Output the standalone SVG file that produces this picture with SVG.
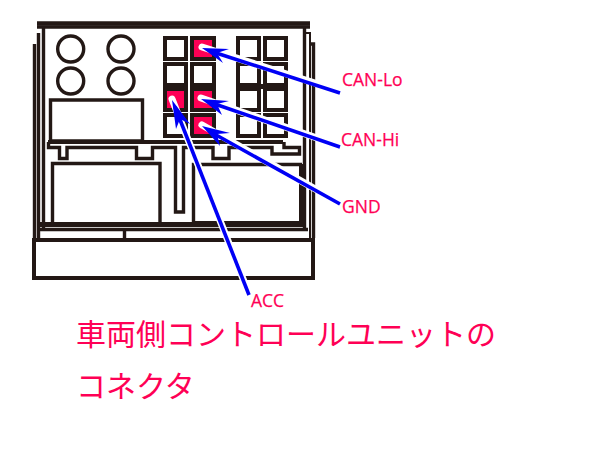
<svg xmlns="http://www.w3.org/2000/svg" width="600" height="450" viewBox="0 0 600 450">
<style>
.k{fill:none;stroke:#231815;stroke-width:3.4}
.p{fill:#fff;stroke:#231815;stroke-width:4}
.r{fill:#ff0055;stroke:#231815;stroke-width:4}
.h{fill:none;stroke:#fff;stroke-width:7;stroke-linecap:round}
.a{fill:none;stroke:#0000f5;stroke-width:3.600}
.ah{fill:#0000f5}
.l{font-family:"Open Sans","Noto Sans",sans-serif;font-size:17.500px;fill:#ff0055;stroke:#ff0055;stroke-width:.25}
.j{font-family:"Noto Sans CJK JP",sans-serif;font-size:30px;fill:#ff0055}
</style>
<rect width="600" height="450" fill="#fff"/>
<g id="housing">
<path class="k" style="stroke-width:4.500" d="M37 23.500H310"/>
<path class="k" d="M37 27H310"/>
<path class="k" d="M43.500 28V229"/>
<path class="k" d="M38.500 33V238"/>
<path class="k" d="M34.500 44V238"/>
<path class="k" d="M304.500 28V229"/>
<path class="k" style="stroke-width:2" d="M306 33H310V238"/>
<path class="k" d="M310 44H313.500V238"/>
<path class="k" style="stroke-width:5" d="M39 224.500H305"/>
<path class="k" d="M39 229.500H308"/>
<path class="k" d="M124.500 230V238"/>
<rect class="k" style="stroke-width:4" x="34" y="240" width="279" height="38"/>
</g>
<g id="holes">
<circle class="k" cx="70.700" cy="49" r="13"/>
<circle class="k" cx="121" cy="49" r="13"/>
<circle class="k" cx="70.700" cy="81" r="13"/>
<circle class="k" cx="121" cy="81" r="13"/>
</g>
<g id="blocks">
<path class="k" d="M50.500 100H142.500V141H50.500Z"/>
<path class="k" style="stroke-width:4" d="M48 142H283"/>
<path class="k" d="M48.500 142V147.500H59.500V158.500H67V147.500H136.500V158.500H152.500V147.500H175.500V212H183.500V147.500H213V158.500H229V147.500H272V154H299.500V147.500H284V142"/>
<path class="k" d="M52.500 163.500H160V224H52.500Z"/>
<path class="k" d="M193.500 224V164.500H302"/>
<path class="k" style="stroke-width:6" d="M302 164V224H193"/>
</g>
<g id="pins">
<rect class="p" x="165" y="38" width="21" height="21"/>
<rect class="r" x="192" y="38" width="22" height="21"/>
<rect class="p" x="238" y="38" width="21" height="21"/>
<rect class="p" x="265" y="38" width="21" height="21"/>
<rect class="p" x="165" y="64" width="21" height="21"/>
<rect class="p" x="192" y="64" width="22" height="21"/>
<rect class="p" x="238" y="64" width="21" height="21"/>
<rect class="p" x="265" y="64" width="21" height="21"/>
<rect class="r" x="165" y="89" width="21" height="21"/>
<rect class="r" x="192" y="89" width="22" height="21"/>
<rect class="p" x="238" y="89" width="21" height="21"/>
<rect class="p" x="265" y="89" width="21" height="21"/>
<rect class="p" x="165" y="115" width="21" height="21"/>
<rect class="r" x="192" y="115" width="22" height="21"/>
<rect class="p" x="238" y="115" width="21" height="21"/>
<rect class="p" x="265" y="115" width="21" height="21"/>
<path class="k" style="stroke-width:5" d="M238 86.500H286"/>
</g>
<g id="connectors">
<path class="h" d="M340 91L202 47"/>
<path class="h" d="M340 146L201 98"/>
<path class="h" d="M340 203L202 125"/>
<path class="h" d="M249 294L172 99"/>
<path class="a" d="M340 93L210 51"/>
<path class="a" d="M340 147L209 102"/>
<path class="a" d="M340 204L209 131"/>
<path class="a" d="M249 295L175 107"/>
<path class="ah" d="M202 48L229 49L217 53L223 63Z"/>
<path class="ah" d="M201 99L229 101L217 104L222 115Z"/>
<path class="ah" d="M202 126L230 133L217 134L220 146Z"/>
<path class="ah" d="M172 100L190 124L180 119L176 129Z"/>
</g>
<g id="labels">
<text class="l" x="342" y="86">CAN-Lo</text>
<text class="l" x="341" y="146">CAN-Hi</text>
<text class="l" x="342" y="213">GND</text>
<text class="l" x="251" y="307">ACC</text>
<text class="j" x="76" y="345">車両側コントロールユニットの</text>
<text class="j" x="76" y="397">コネクタ</text>
</g>
</svg>
